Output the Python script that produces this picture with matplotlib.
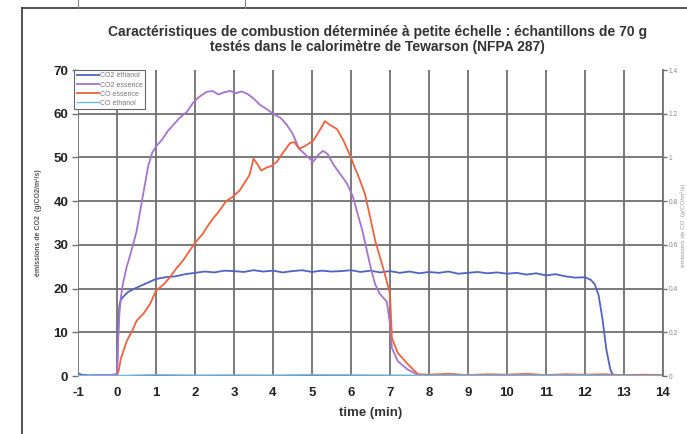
"""
Small-scale combustion characteristics, Tewarson calorimeter (NFPA 287)
"""

import matplotlib
matplotlib.use("Agg")
import matplotlib.pyplot as plt
from matplotlib.lines import Line2D

# CO2 ethanol, left axis (g/m2/s)
t_co2_eth = [-1, -0.9, -0.7, -0.5, -0.3, -0.1, 0.0, 0.03, 0.06, 0.1, 0.2, 0.3, 0.5, 0.7,
             1.0, 1.25, 1.5, 1.75, 2.0, 2.25, 2.5, 2.75, 3.0, 3.25, 3.5, 3.75, 4.0, 4.25,
             4.5, 4.75, 5.0, 5.25, 5.5, 5.75, 6.0, 6.25, 6.5, 6.75, 7.0, 7.25, 7.5, 7.75,
             8.0, 8.25, 8.5, 8.75, 9.0, 9.25, 9.5, 9.75, 10.0, 10.25, 10.5, 10.75, 11.0,
             11.25, 11.5, 11.75, 12.0, 12.15, 12.25, 12.35, 12.45, 12.55, 12.65, 12.72,
             13, 13.5, 14]
co2_eth = [0.6, 0.3, 0.1, 0.2, 0.1, 0.3, 0.4, 10, 16, 17.5, 18.5, 19.3, 20.2, 21,
           22.2, 22.6, 22.8, 23.3, 23.6, 23.9, 23.7, 24.1, 24.0, 23.8, 24.2, 23.9, 24.1, 23.7,
           24.0, 24.2, 23.8, 24.1, 23.9, 24.0, 24.2, 23.8, 24.1, 23.7, 24.0, 23.6, 23.9, 23.5,
           23.8, 23.6, 23.9, 23.4, 23.6, 23.8, 23.5, 23.7, 23.4, 23.6, 23.2, 23.5, 23.0,
           23.3, 22.8, 22.5, 22.6, 22.0, 21.0, 18.5, 13, 6, 1.5, 0.2,
           0.1, 0.2, 0.1]

# CO2 essence, left axis
t_co2_ess = [-1, -0.5, 0, 0.03, 0.06, 0.1, 0.15, 0.25, 0.35, 0.5, 0.6, 0.7, 0.8, 0.9, 1.0,
             1.15, 1.3, 1.45, 1.6, 1.8, 1.95, 2.1, 2.3, 2.45, 2.6, 2.75, 2.9, 3.05, 3.2,
             3.35, 3.5, 3.67, 3.85, 4.0, 4.2, 4.35, 4.5, 4.67, 4.85, 5.03, 5.15, 5.28, 5.4,
             5.54, 5.7, 5.9, 6.05, 6.15, 6.3, 6.5, 6.62, 6.74, 6.92, 7.0, 7.05, 7.2, 7.45,
             7.69, 7.78, 8, 9, 10, 11, 12, 13, 14]
co2_ess = [0.1, 0.2, 0.3, 8, 14, 18, 21, 25, 28, 33, 38, 43, 48, 51, 52.5,
           54, 56, 57.5, 59, 60.5, 62.5, 63.8, 65, 65.2, 64.4, 64.9, 65.2, 64.7, 65.1,
           64.5, 63.5, 62, 61, 60, 59, 57.5, 55.5, 52, 50.5, 49, 50.5, 51.5, 50.8,
           48.5, 46.5, 44, 41, 37.8, 33, 25, 21, 18.8, 17, 12, 6.4, 3.4, 1.5,
           0.4, 0, 0, 0, 0, 0, 0, 0, 0]

# CO essence, right axis (g/m2/s)
t_co_ess = [-1, 0, 0.05, 0.1, 0.25, 0.4, 0.5, 0.7, 0.85, 1.0, 1.2, 1.35, 1.53, 1.7, 1.85,
            2.05, 2.2, 2.3, 2.46, 2.6, 2.8, 2.97, 3.15, 3.3, 3.4, 3.5, 3.6, 3.7, 3.84, 3.95,
            4.1, 4.25, 4.44, 4.55, 4.67, 4.8, 5.03, 5.15, 5.25, 5.33, 5.45, 5.64, 5.8, 5.9,
            6.0, 6.1, 6.2, 6.36, 6.5, 6.62, 6.75, 6.87, 7.0, 7.05, 7.2, 7.46, 7.72, 8.0,
            8.5, 9, 9.5, 10, 10.5, 11, 11.5, 12, 12.5, 13, 13.5, 14]
co_ess = [0, 0, 0.03, 0.08, 0.16, 0.21, 0.252, 0.29, 0.33, 0.39, 0.42, 0.45, 0.494, 0.53, 0.57,
          0.62, 0.65, 0.68, 0.72, 0.75, 0.80, 0.82, 0.85, 0.892, 0.92, 0.994, 0.97, 0.94, 0.954, 0.96,
          0.98, 1.02, 1.066, 1.07, 1.04, 1.05, 1.076, 1.11, 1.14, 1.166, 1.15, 1.13, 1.08, 1.04,
          1.0, 0.952, 0.91, 0.832, 0.72, 0.62, 0.54, 0.466, 0.376, 0.174, 0.106, 0.054, 0.008, 0.006,
          0.01, 0.004, 0.008, 0.006, 0.01, 0.004, 0.008, 0.006, 0.008, 0.004, 0.006, 0.004]

# CO ethanol, right axis
t_co_eth = [-1, 0, 1, 2, 3, 4, 5, 6, 7, 8, 9, 10, 11, 12, 13, 14]
co_eth = [0.002, 0.002, 0.006, 0.004, 0.005, 0.004, 0.006, 0.005, 0.004, 0.003, 0.003,
          0.004, 0.003, 0.004, 0.002, 0.002]

x_ticks = list(range(-1, 15))
y_ticks = [0, 10, 20, 30, 40, 50, 60, 70]
y2_ticks = [0, 0.2, 0.4, 0.6, 0.8, 1, 1.2, 1.4]
y2_labels = ["0", "0.2", "0.4", "0.6", "0.8", "1", "1.2", "1.4"]

title = ("Caractéristiques de combustion déterminée à petite échelle : échantillons de 70 g\n"
         "testés dans le calorimètre de Tewarson (NFPA 287)")

plt.rcParams["font.family"] = ["Liberation Sans", "DejaVu Sans"]
plt.rcParams["axes.unicode_minus"] = False
grid_c = "#707070"

fig = plt.figure(figsize=(6.87, 4.34), dpi=100)
ax = fig.add_axes([0.1135, 0.1336, 0.8515, 0.7051])
ax2 = ax.twinx()

ax.set_xlim(-1, 14)
ax.set_ylim(0, 70)
ax2.set_ylim(0, 1.4)

ax.set_xticks(x_ticks)
ax.set_yticks(y_ticks)
ax2.set_yticks(y2_ticks)
ax2.set_yticklabels(y2_labels)

for v in x_ticks:
    ax.axvline(v, color=grid_c, lw=1.3, zorder=0)
for v in y_ticks[:-1]:
    ax.axhline(v, color=grid_c, lw=1.3, zorder=0)

for s in ["top", "bottom", "left"]:
    ax.spines[s].set_visible(False)
    ax2.spines[s].set_visible(False)
ax.spines["right"].set_visible(False)
ax2.spines["right"].set_color(grid_c)
ax2.spines["right"].set_linewidth(1.3)

ax.tick_params(axis="x", length=0, pad=8, labelsize=9.5, colors="#222222")
ax.tick_params(axis="y", length=4, width=1, pad=3, labelsize=9.5, colors="#222222")
ax.tick_params(axis="y", color=grid_c)
ax2.tick_params(axis="y", length=3, width=1, color=grid_c, pad=1, labelsize=4.8,
                labelcolor="#888888")
for lab in ax.get_xticklabels() + ax.get_yticklabels():
    lab.set_fontweight("bold")

l1, = ax.plot(t_co2_eth, co2_eth, color="#4f63c4", lw=1.3, label="CO2 éthanol")
l2, = ax.plot(t_co2_ess, co2_ess, color="#a574d0", lw=1.3, label="CO2 essence")
l3, = ax2.plot(t_co_ess, co_ess, color="#f0623c", lw=1.3, label="CO essence")
l4, = ax2.plot(t_co_eth, co_eth, color="#6ab8e8", lw=1.0, label="CO éthanol")

leg = ax2.legend(handles=[l1, l2, l3, l4], loc="upper left", bbox_to_anchor=(-0.012, 1.01),
                 fontsize=5, handlelength=3.2, handletextpad=0.2, labelspacing=0.3,
                 borderpad=0.3, frameon=True, fancybox=False, framealpha=1)
leg.get_frame().set_edgecolor("#666666")
leg.get_frame().set_linewidth(0.8)
for txt in leg.get_texts():
    txt.set_color("#777777")

ax.set_xlabel("time (min)", fontsize=9.5, fontweight="bold", color="#333333", labelpad=6)
ax.set_ylabel("émissions de CO2  (g/CO2/m²/s)", fontsize=5, fontweight="bold",
              color="#555555", labelpad=8)
fig.text(683 / 687, 0.48, "émissions de CO  (g/CO/m²/s)", rotation=90, fontsize=4.5,
         color="#999999", ha="center", va="center")

fig.text(0.549, 0.909, title, ha="center", va="center", fontsize=10, fontweight="bold",
         color="#333333", linespacing=1.1)

# outer frame and table borders from the page
fig.add_artist(Line2D([22 / 687, 22 / 687], [0, 1 - 8 / 434], color="#444444", lw=1.3))
fig.add_artist(Line2D([22 / 687, 1], [1 - 8 / 434, 1 - 8 / 434], color="#444444", lw=1.3))
fig.add_artist(Line2D([78 / 687, 78 / 687], [1 - 8 / 434, 1], color="#888888", lw=0.8))
fig.add_artist(Line2D([245 / 687, 245 / 687], [1 - 8 / 434, 1], color="#888888", lw=0.8))

fig.savefig("out.png", dpi=100)
